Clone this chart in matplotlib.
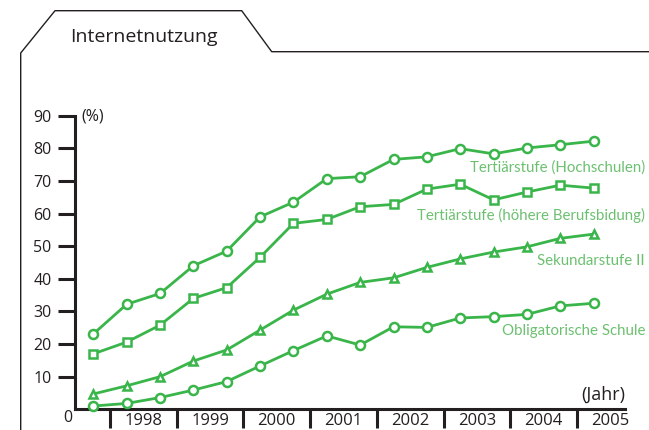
import numpy as np
import matplotlib
matplotlib.use("Agg")
import matplotlib.pyplot as plt
from matplotlib.lines import Line2D

##----------------- data -----------------
# survey dates (half-yearly)
dates = [1997.75, 1998.25, 1998.75, 1999.25, 1999.75, 2000.25, 2000.75, 2001.25,
         2001.75, 2002.25, 2002.75, 2003.25, 2003.75, 2004.25, 2004.75, 2005.25]
hochschulen = [23.1, 32.2, 35.5, 44.0, 48.5, 59.0, 63.5, 70.7,
               71.3, 76.6, 77.4, 79.9, 78.3, 80.1, 81.1, 82.2]
berufsbildung = [17.0, 20.6, 25.8, 34.0, 37.3, 46.6, 57.0, 58.2,
                 62.1, 62.8, 67.5, 69.0, 64.2, 66.6, 68.7, 67.8]
sekundar = [4.7, 7.2, 10.0, 14.8, 18.2, 24.3, 30.4, 35.3,
            38.9, 40.3, 43.5, 46.1, 48.2, 49.8, 52.4, 53.7]
obligatorisch = [1.0, 1.8, 3.6, 5.9, 8.5, 13.3, 18.0, 22.5,
                 19.7, 25.3, 25.1, 28.0, 28.4, 29.1, 31.7, 32.5]

series_names = ["Tertiärstufe (Hochschulen)", "Tertiärstufe (höhere Berufsbidung)",
                "Sekundarstufe II", "Obligatorische Schule"]
series_markers = ["o", "s", "^", "o"]
label_y = [168, 215, 261, 331]   # label centres in pixels from top

years = [1998, 1999, 2000, 2001, 2002, 2003, 2004, 2005]
yticks = [10, 20, 30, 40, 50, 60, 70, 80, 90]
##-----------------------------------------------------------

plt.rcParams['font.family'] = ['Open Sans', 'DejaVu Sans']
W, H = 649, 430
fig = plt.figure(figsize=(W / 100, H / 100), dpi=100)

line_col = "#39b54a"
text_col = "#6cc070"
dark = "#231f20"

ax = fig.add_axes([75 / W, 20.7 / H, 550 / W, 293.6 / H])
ax.set_xlim(1997.475, 2005.72)
ax.set_ylim(0, 90)

for vals, mk in zip([hochschulen, berufsbildung, sekundar, obligatorisch], series_markers):
    ax.plot(dates, vals, color=line_col, lw=2, marker=mk,
            ms=6.5 if mk == "o" else 6, mfc="white", mec=line_col, mew=1.8,
            clip_on=False, zorder=3)

for sp in ["top", "right"]:
    ax.spines[sp].set_visible(False)
for sp in ["left", "bottom"]:
    ax.spines[sp].set_color(dark)
    ax.spines[sp].set_linewidth(2.2)

ax.set_yticks(yticks)
ax.set_yticklabels([str(v) for v in yticks], fontsize=11.5, color=dark)
ax.tick_params(axis="y", length=12, width=2.2, color=dark, pad=5)

# year boundaries as major ticks, labels in between
ax.set_xticks(years)
ax.set_xticklabels([])
ax.tick_params(axis="x", which="major", direction="out", length=14, width=2.2, color=dark)
ax.set_xticks([y + 0.5 for y in years], minor=True)
ax.set_xticklabels([str(y) for y in years], minor=True, fontsize=12, color=dark)
ax.tick_params(axis="x", which="minor", length=0, pad=3)
ax.yaxis.set_minor_locator(matplotlib.ticker.NullLocator())

# series labels, right aligned
for name, ly in zip(series_names, label_y):
    fig.text(645 / W, 1 - ly / H, name, ha="right", va="center",
             fontsize=10.8, color=text_col, family="Lato")

fig.text(81 / W, 1 - 116 / H, "(%)", ha="left", va="center", fontsize=11.5, color=dark)
fig.text(625 / W, 1 - 395 / H, "(Jahr)", ha="right", va="center", fontsize=13, color=dark)
fig.text(68 / W, 1 - 418 / H, "0", ha="center", va="center", fontsize=11.5, color=dark)

# tab-shaped frame
fx = [20.7, 20.7, 55, 241.7, 271.7, 649]
fy = [430, 53, 10.7, 10.7, 51.7, 51.7]
fig.add_artist(Line2D([x / W for x in fx], [1 - y / H for y in fy],
                      color=dark, lw=1.0, transform=fig.transFigure))
fig.text(70 / W, 1 - 37 / H, "Internetnutzung", ha="left", va="center",
         fontsize=14, color=dark)

fig.savefig("out.png", dpi=100)
